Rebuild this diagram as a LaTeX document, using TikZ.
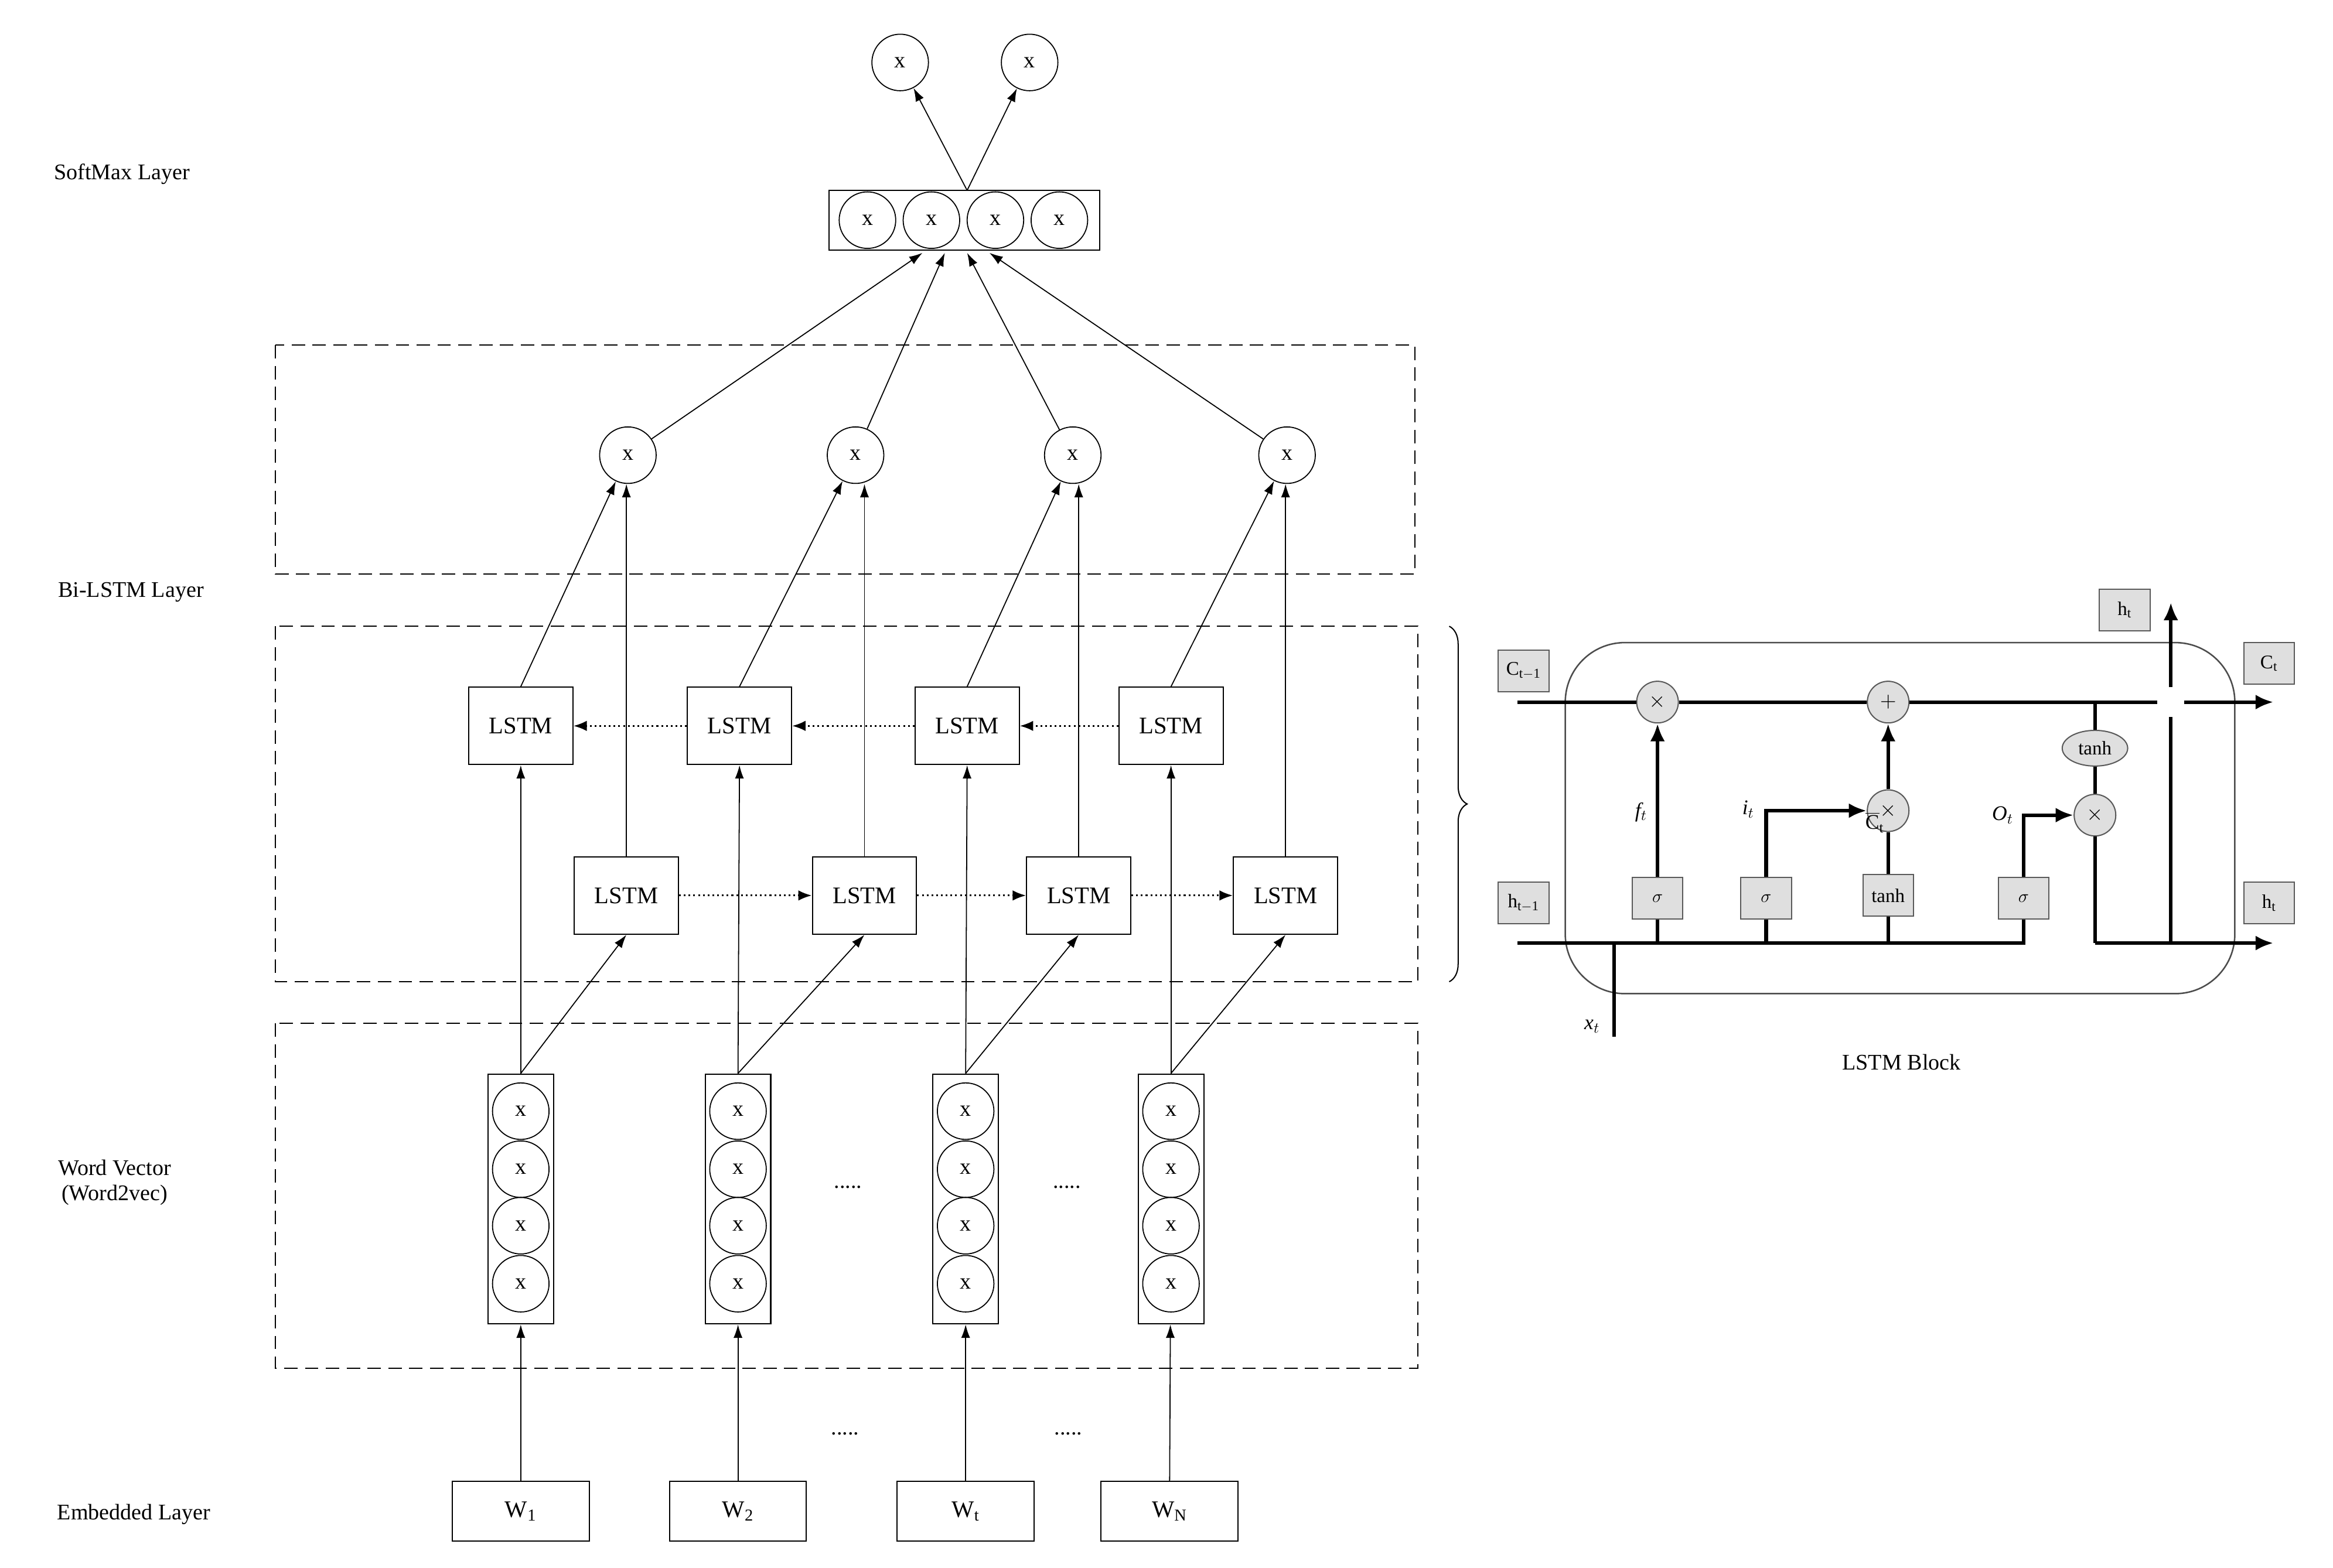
\documentclass[tikz,border=0pt]{standalone}
\usepackage{fontspec}
\setmainfont{Liberation Serif}
\usetikzlibrary{arrows.meta,decorations.pathreplacing,shapes.geometric}
\begin{document}
\begin{tikzpicture}[x=1pt,y=-1pt,
 arr/.style={-{Latex[length=9pt,width=6pt]},line width=0.7pt},
 ln/.style={line width=0.7pt},
 circ/.style={circle,draw,line width=0.7pt,minimum size=38pt,inner sep=0pt,font=\fontsize{15}{15}\selectfont},
 lstm/.style={rectangle,draw,line width=0.8pt,minimum width=70pt,minimum height=52pt,font=\fontsize{16}{16}\selectfont},
 wbox/.style={rectangle,draw,line width=0.8pt,minimum width=92pt,minimum height=40pt,font=\fontsize{16}{16}\selectfont},
 dbox/.style={draw,dashed,dash pattern=on 9pt off 5pt,line width=0.8pt},
 lab/.style={font=\fontsize{15}{17}\selectfont,align=center},
 gcirc/.style={circle,draw=gray!70!black,fill=gray!25,line width=0.8pt,minimum size=28pt,inner sep=0pt,font=\fontsize{14}{14}\selectfont},
 gbox/.style={rectangle,draw=gray!70!black,fill=gray!25,line width=0.8pt,minimum width=34pt,minimum height=28pt,inner sep=1pt,font=\fontsize{13}{13}\selectfont},
 thick2/.style={line width=2.4pt},
 tarr/.style={line width=2.4pt,-{Latex[length=12pt,width=10pt]}},
 dot/.style={dotted,line width=1.2pt,-{Latex[length=9pt,width=7pt]}}]
\useasboundingbox (0,0) rectangle (1568,1054);
% labels
\node[lab] (l1) at (82,117) {SoftMax Layer};
\node[lab] (l2) at (88,398) {Bi-LSTM Layer};
\node[lab] (l3) at (77,795) {Word Vector\\(Word2vec)};
\node[lab] (l4) at (90,1018) {Embedded Layer};
% dashed boxes
\draw[dbox] (185,232) rectangle (951,386);
\draw[dbox] (185,421) rectangle (953,660);
\draw[dbox] (185,688) rectangle (953,920);
% softmax
\node[draw,line width=0.8pt,minimum width=182pt,minimum height=40pt] (sm) at (648,148) {};
\foreach \i/\x in {1/583,2/626,3/669,4/712} \node[circ] (s\i) at (\x,148) {x};
\node[circ] (o1) at (605,42) {x};
\node[circ] (o2) at (692,42) {x};
\coordinate (smt) at (650,128);
\draw[arr] (smt) -- (o1);
\draw[arr] (smt) -- (o2);
% bi-lstm circles
\foreach \i/\x in {1/422,2/575,3/721,4/865} \node[circ] (c\i) at (\x,306) {x};
\foreach \i/\x in {1/620,2/635,3/650,4/665} {\coordinate (e\i) at (\x,170); \draw[arr] (c\i) -- (e\i);}
% LSTMs
\foreach \i/\x in {1/350,2/497,3/650,4/787} \node[lstm] (b\i) at (\x,488) {LSTM};
\foreach \i/\x in {1/421,2/581,3/725,4/864} \node[lstm] (f\i) at (\x,602) {LSTM};
\draw[dot] (b2) -- (b1); \draw[dot] (b3) -- (b2); \draw[dot] (b4) -- (b3);
\draw[dot] (f1) -- (f2); \draw[dot] (f2) -- (f3); \draw[dot] (f3) -- (f4);
\foreach \i in {1,2,3,4} {
 \draw[arr] (b\i.north) -- (c\i);
 \draw[arr] (f\i.north) -- (f\i.north |- c\i.south);
}
% word vectors
\foreach \i/\x in {1/350,2/496,3/649,4/787} {
 \node[draw,line width=0.8pt,minimum width=44pt,minimum height=168pt] (v\i) at (\x,806) {};
 \foreach \j/\y in {1/747,2/786,3/824,4/863} \node[circ] at (\x,\y) {x};
 \draw[arr] (v\i.north) -- (b\i.south);
 \draw[arr] (v\i.north) -- (f\i.south);
}
\node[wbox] (w1) at (350,1016) {W\textsubscript{1}};
\node[wbox] (w2) at (496,1016) {W\textsubscript{2}};
\node[wbox] (w3) at (649,1016) {W\textsubscript{t}};
\node[wbox] (w4) at (786,1016) {W\textsubscript{N}};
\foreach \i in {1,2,3,4} \draw[arr] (w\i) -- (v\i);
\node[lab] (d1) at (570,798) {.....};
\node[lab] (d2) at (717,798) {.....};
\node[lab] (d3) at (568,964) {.....};
\node[lab] (d4) at (718,964) {.....};
% brace
\draw[decorate,decoration={brace,amplitude=12pt},line width=0.8pt] (974,421) -- (974,660);
% LSTM block
\node[draw=gray!60!black,line width=1pt,rounded corners=40pt,minimum width=450pt,minimum height=236pt] (blk) at (1277,550) {};
\node[gcirc] (m1) at (1114,472) {$\times$};
\node[gcirc] (p1) at (1269,472) {$+$};
\node[gcirc] (m2) at (1269,545) {$\times$};
\node[gcirc] (m3) at (1408,548) {$\times$};
\node[ellipse,draw=gray!70!black,fill=gray!25,line width=0.8pt,minimum width=44pt,minimum height=24pt,inner sep=0pt,font=\fontsize{13}{13}\selectfont] (th) at (1408,503) {tanh};
\node[gbox] (g1) at (1114,604) {$\sigma$};
\node[gbox] (g2) at (1187,604) {$\sigma$};
\node[gbox] (g3) at (1269,602) {tanh};
\node[gbox] (g4) at (1360,604) {$\sigma$};
\node[gbox] (lc0) at (1024,451) {C$_{\mathrm{t-1}}$};
\node[gbox] (lh0) at (1024,607) {h$_{\mathrm{t-1}}$};
\node[gbox] (lh1) at (1428,410) {h$_{\mathrm{t}}$};
\node[gbox] (lc1) at (1525,446) {C$_{\mathrm{t}}$};
\node[gbox] (lh2) at (1525,607) {h$_{\mathrm{t}}$};
\coordinate (cs) at (1020,472); \coordinate (ce) at (1528,472);
\coordinate (hs) at (1020,634); \coordinate (hk) at (1360,634);
\coordinate (he) at (1528,634); \coordinate (hb) at (1408,634);
\coordinate (xb) at (1085,697); \coordinate (xt) at (1085,634);
\coordinate (up0) at (1459,634); \coordinate (up1) at (1459,405);
\coordinate (tj) at (1408,472);
\draw[thick2] (cs) -- (m1); \draw[thick2] (m1) -- (p1); \draw[thick2] (p1) -- (1450,472);
\draw[tarr] (1468,472) -- (ce);
\draw[thick2] (hs) -- (hk) -- (g4.south);
\draw[thick2] (xb) -- (xt);
\draw[thick2] (g1.south) -- (g1.south |- hs);
\draw[thick2] (g2.south) -- (g2.south |- hs);
\draw[thick2] (g3.south) -- (g3.south |- hs);
\draw[tarr] (g1) -- (m1);
\draw[thick2,-{Latex[length=12pt,width=10pt]}] (g2.north) |- (m2);
\draw[thick2] (g3) -- (m2);
\draw[tarr] (m2) -- (p1);
\draw[thick2,-{Latex[length=12pt,width=10pt]}] (g4.north) |- (m3);
\draw[thick2] (tj) -- (th); \draw[thick2] (th) -- (m3);
\draw[thick2] (m3) -- (hb);
\draw[tarr] (hb) -- (he);
\draw[thick2] (up0) -- (1459,482);
\draw[tarr] (1459,462) -- (up1);
\node[font=\itshape\fontsize{14}{14}\selectfont] (ft) at (1103,546) {f$_t$};
\node[font=\itshape\fontsize{14}{14}\selectfont] (it) at (1175,544) {i$_t$};
\node[font=\fontsize{14}{14}\selectfont] (ct) at (1260,553) {$\overline{\mathrm{C}}_{\mathrm{t}}$};
\node[font=\itshape\fontsize{14}{14}\selectfont] (ot) at (1346,548) {O$_t$};
\node[font=\itshape\fontsize{14}{14}\selectfont] (xtl) at (1070,690) {x$_t$};
\node[lab] (bl) at (1278,714) {LSTM Block};
\end{tikzpicture}
\end{document}
